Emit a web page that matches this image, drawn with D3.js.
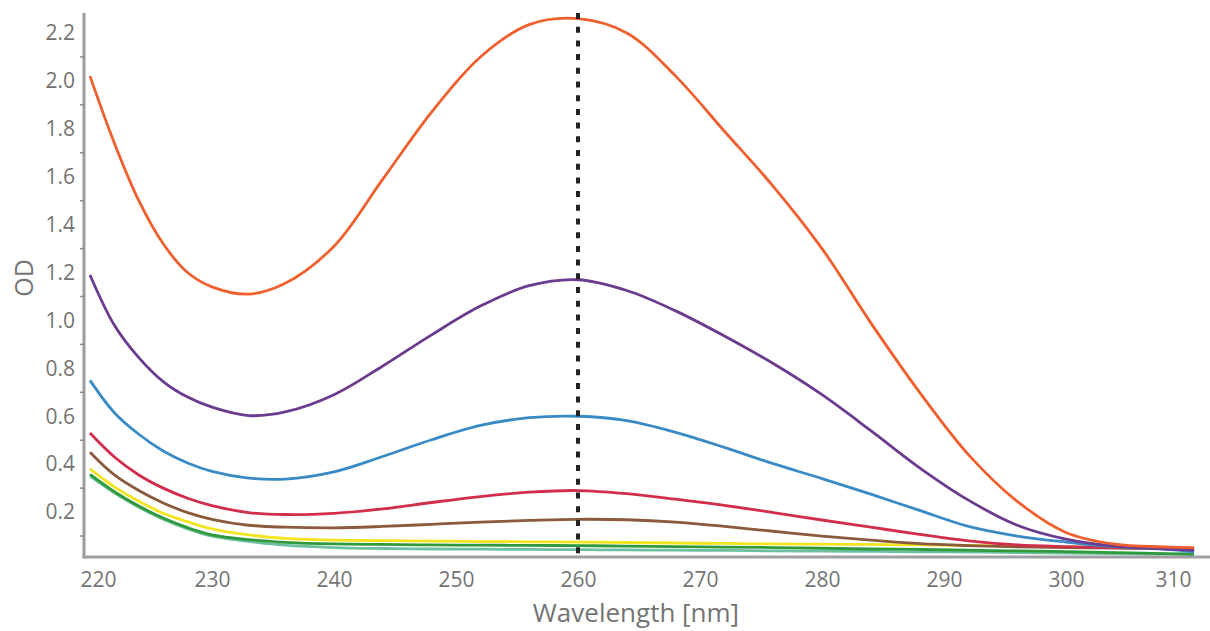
<!DOCTYPE html>
<html>
<head>
<meta charset="utf-8">
<script src="https://cdn.jsdelivr.net/npm/d3@7"></script>
<style>
  html, body { margin: 0; padding: 0; background: #fff; }
  svg text { font-family: "Open Sans", "Noto Sans", sans-serif; fill: #747474; }
</style>
</head>
<body>
<svg id="chart" width="1210" height="631"></svg>
<script>
// wavelength grid (nm)
const wavelengths = [220, 222, 224, 226, 228, 230, 233, 236, 240, 244, 248, 252, 256, 260,
  264, 268, 272, 276, 280, 284, 288, 292, 296, 300, 304, 308, 310.5];

// OD values, one array per sample
const odOrange = [2.02, 1.74, 1.50, 1.32, 1.20, 1.14, 1.11, 1.155, 1.31, 1.59, 1.87, 2.10, 2.235, 2.26,
  2.20, 2.02, 1.79, 1.56, 1.30, 0.99, 0.70, 0.44, 0.245, 0.115, 0.066, 0.055, 0.052];
const odPurple = [1.19, 0.98, 0.845, 0.745, 0.68, 0.638, 0.603, 0.618, 0.69, 0.81, 0.94, 1.06, 1.145, 1.17,
  1.125, 1.04, 0.935, 0.82, 0.69, 0.54, 0.385, 0.25, 0.145, 0.087, 0.058, 0.047, 0.04];
const odBlue = [0.75, 0.615, 0.525, 0.455, 0.405, 0.37, 0.342, 0.338, 0.368, 0.432, 0.502, 0.562, 0.594, 0.60,
  0.582, 0.533, 0.47, 0.402, 0.34, 0.275, 0.207, 0.14, 0.10, 0.075, 0.056, 0.045, 0.035];
const odRed = [0.53, 0.43, 0.355, 0.30, 0.258, 0.227, 0.198, 0.19, 0.195, 0.213, 0.24, 0.265, 0.283, 0.29,
  0.277, 0.254, 0.228, 0.198, 0.167, 0.137, 0.107, 0.08, 0.063, 0.056, 0.052, 0.05, 0.048];
const odBrown = [0.45, 0.355, 0.29, 0.238, 0.198, 0.17, 0.145, 0.137, 0.134, 0.14, 0.149, 0.158, 0.165, 0.17,
  0.168, 0.158, 0.14, 0.12, 0.10, 0.083, 0.068, 0.06, 0.055, 0.052, 0.05, 0.047, 0.044];
const odYellow = [0.38, 0.305, 0.245, 0.195, 0.16, 0.13, 0.105, 0.09, 0.083, 0.081, 0.079, 0.077, 0.076, 0.075,
  0.073, 0.071, 0.069, 0.067, 0.066, 0.065, 0.063, 0.061, 0.058, 0.055, 0.052, 0.049, 0.04];
const odGreen = [0.357, 0.285, 0.225, 0.175, 0.135, 0.105, 0.085, 0.074, 0.067, 0.065, 0.063, 0.062, 0.061, 0.06,
  0.058, 0.056, 0.054, 0.052, 0.049, 0.046, 0.044, 0.041, 0.038, 0.035, 0.031, 0.027, 0.022];
const odTeal = [0.35, 0.28, 0.22, 0.17, 0.13, 0.10, 0.078, 0.062, 0.052, 0.048, 0.046, 0.045, 0.044, 0.043,
  0.042, 0.041, 0.04, 0.038, 0.037, 0.036, 0.034, 0.033, 0.031, 0.029, 0.027, 0.025, 0.03];

const seriesNames = ['teal', 'green', 'yellow', 'brown', 'red', 'blue', 'purple', 'orange'];
const seriesValues = [odTeal, odGreen, odYellow, odBrown, odRed, odBlue, odPurple, odOrange];
const seriesColors = ['#6cbf9f', '#2f9a3c', '#f2e41e', '#8a5a3b', '#d22d4c', '#3a8ac6', '#6a3b8e', '#f0602f'];

const xTicks = [220, 230, 240, 250, 260, 270, 280, 290, 300, 310];
const yTicks = [0.2, 0.4, 0.6, 0.8, 1.0, 1.2, 1.4, 1.6, 1.8, 2.0, 2.2];
const yMinorTicks = [0.1, 0.3, 0.5, 0.7, 0.9, 1.1, 1.3, 1.5, 1.7, 1.9, 2.1];
const markerWavelength = 260;
const xTitle = 'Wavelength [nm]';
const yTitle = 'OD';

const svg = d3.select('#chart');
const axisX = 84, axisY = 557, topY = 13;

const x = d3.scaleLinear().domain([220, 310]).range([90, 1188]);
const y = d3.scaleLinear().domain([0, 2.2]).range([560, 33]);

// curves
const line = d3.line()
  .x(d => x(d[0]))
  .y(d => y(d[1]))
  .curve(d3.curveCatmullRom.alpha(0.5));

svg.append('g').selectAll('path')
  .data(seriesValues.map((vals, i) => ({name: seriesNames[i], color: seriesColors[i],
    pts: vals.map((v, j) => [wavelengths[j], v])})))
  .enter().append('path')
  .attr('d', d => line(d.pts))
  .attr('fill', 'none')
  .attr('stroke', d => d.color)
  .attr('stroke-width', 2.8)
  .attr('stroke-linejoin', 'round');

// dotted marker at 260 nm
svg.append('line')
  .attr('x1', x(markerWavelength)).attr('x2', x(markerWavelength))
  .attr('y1', 13).attr('y2', axisY + 2)
  .attr('stroke', '#222')
  .attr('stroke-width', 4)
  .attr('stroke-dasharray', '6 7.7');

// axis lines
svg.append('line')
  .attr('x1', axisX).attr('x2', axisX).attr('y1', topY).attr('y2', axisY + 1.5)
  .attr('stroke', '#9c9c9c').attr('stroke-width', 3);
svg.append('line')
  .attr('x1', axisX - 1.5).attr('x2', 1210).attr('y1', axisY).attr('y2', axisY)
  .attr('stroke', '#a0a0a4').attr('stroke-width', 3);

// y axis labels + minor ticks
const yAxis = d3.axisLeft(y).tickValues(yTicks).tickFormat(d3.format('.1f')).tickSize(0).tickPadding(9);
const gy = svg.append('g').attr('transform', `translate(${axisX},0)`).call(yAxis);
gy.select('.domain').remove();
gy.selectAll('text').style('font-size', '21px').attr('fill', '#747474');

svg.append('g').selectAll('line')
  .data(yMinorTicks)
  .enter().append('line')
  .attr('x1', axisX - 4).attr('x2', axisX)
  .attr('y1', d => y(d)).attr('y2', d => y(d))
  .attr('stroke', '#8a8a8a').attr('stroke-width', 1.5);

// x axis labels
const xAxis = d3.axisBottom(x).tickValues(xTicks).tickFormat(d3.format('d')).tickSize(0).tickPadding(15);
const gx = svg.append('g').attr('transform', `translate(0,${axisY})`).call(xAxis);
gx.select('.domain').remove();
gx.selectAll('text').style('font-size', '21px').attr('fill', '#747474')
  .attr('dx', d => d === 220 ? 8 : (d === 310 ? -15 : 0));

// titles
svg.append('text')
  .attr('x', 636).attr('y', 622)
  .attr('text-anchor', 'middle')
  .style('font-size', '26px')
  .text(xTitle);

svg.append('text')
  .attr('transform', 'translate(33,278) rotate(-90)')
  .attr('text-anchor', 'middle')
  .style('font-size', '25px')
  .text(yTitle);
</script>
</body>
</html>
